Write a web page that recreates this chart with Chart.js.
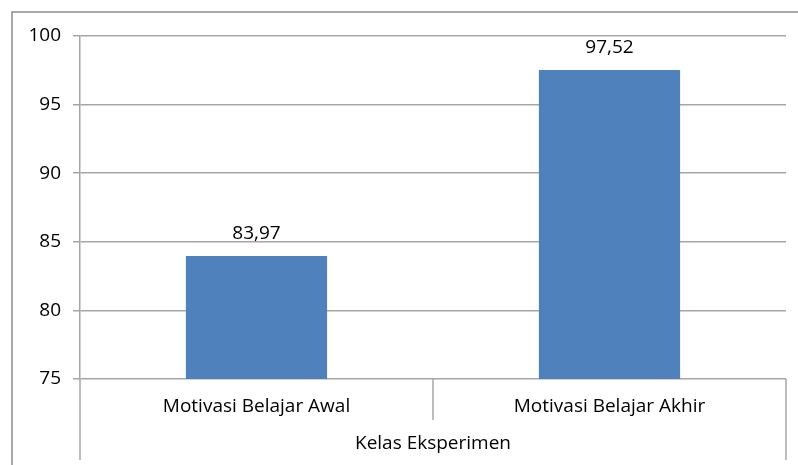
<!DOCTYPE html>
<html>
<head>
<meta charset="utf-8">
<script src="https://cdn.jsdelivr.net/npm/chart.js@4.4.1/dist/chart.umd.min.js"></script>
<style>
  html, body { margin: 0; padding: 0; background: #fff; }
  #wrap { width: 798px; height: 465px; }
</style>
</head>
<body>
<div id="wrap"><canvas id="chart" width="798" height="465"></canvas></div>
<script>
// data
const categories = ["Motivasi Belajar Awal", "Motivasi Belajar Akhir"];
const groupLabel = "Kelas Eksperimen";
const values = [83.97, 97.52];
const yMin = 75, yMax = 100, yStep = 5;

const FONT = "'Open Sans', Lato, sans-serif";
const FSIZE = 19;
const LINE = "#a6a6a6";

function fmt(v) {
  return v.toFixed(2).replace(".", ",");
}

// frame, lower axis box lines and value labels
const extras = {
  id: "extras",
  afterDatasetsDraw: function(chart) {
    const ctx = chart.ctx;
    const meta = chart.getDatasetMeta(0);
    ctx.save();
    ctx.fillStyle = "#000";
    ctx.font = FSIZE + "px " + FONT;
    ctx.textAlign = "center";
    ctx.textBaseline = "middle";
    meta.data.forEach(function(bar, i) {
      ctx.fillText(fmt(values[i]), bar.x, bar.y - 22);
    });
    ctx.restore();
  },
  afterDraw: function(chart) {
    const ctx = chart.ctx;
    const area = chart.chartArea;
    const x = chart.scales.x;
    ctx.save();
    ctx.strokeStyle = LINE;
    ctx.lineWidth = 1.5;
    ctx.beginPath();
    // outer edges of the category box
    ctx.moveTo(area.left, area.bottom);
    ctx.lineTo(area.left, 460);
    ctx.moveTo(area.right, area.bottom);
    ctx.lineTo(area.right, 460);
    // separator between categories
    const mid = (x.getPixelForValue(0) + x.getPixelForValue(1)) / 2;
    ctx.moveTo(mid, area.bottom);
    ctx.lineTo(mid, 420);
    ctx.stroke();
    // chart frame
    ctx.strokeStyle = "#8c8c8c";
    ctx.beginPath();
    ctx.moveTo(12, 470);
    ctx.lineTo(12, 12);
    ctx.lineTo(800, 12);
    ctx.stroke();
    ctx.restore();
  }
};

new Chart(document.getElementById("chart"), {
  type: "bar",
  data: {
    labels: categories,
    datasets: [{
      data: values,
      backgroundColor: "#4f81bd",
      borderWidth: 0,
      barPercentage: 0.4,
      categoryPercentage: 1.0
    }]
  },
  options: {
    responsive: false,
    animation: false,
    devicePixelRatio: 1,
    layout: { padding: { left: 0, top: 36, right: 12, bottom: 0 } },
    plugins: {
      legend: { display: false },
      tooltip: { enabled: false }
    },
    scales: {
      x: {
        afterFit: function(scale) { scale.height = 86; },
        grid: { display: false, drawTicks: false },
        border: { display: false },
        ticks: {
          color: "#000",
          font: { family: FONT, size: FSIZE },
          padding: 16,
          maxRotation: 0
        },
        title: {
          display: true,
          text: groupLabel,
          color: "#000",
          font: { family: FONT, size: FSIZE },
          padding: { top: 0, bottom: 10 }
        }
      },
      y: {
        min: yMin,
        max: yMax,
        afterFit: function(scale) { scale.width = 80; },
        grid: {
          color: LINE,
          lineWidth: 1.5,
          tickLength: 7,
          drawTicks: true
        },
        border: { display: true, color: LINE, width: 1.5 },
        ticks: {
          stepSize: yStep,
          color: "#000",
          font: { family: FONT, size: FSIZE },
          padding: 12
        }
      }
    }
  },
  plugins: [extras]
});
</script>
</body>
</html>
